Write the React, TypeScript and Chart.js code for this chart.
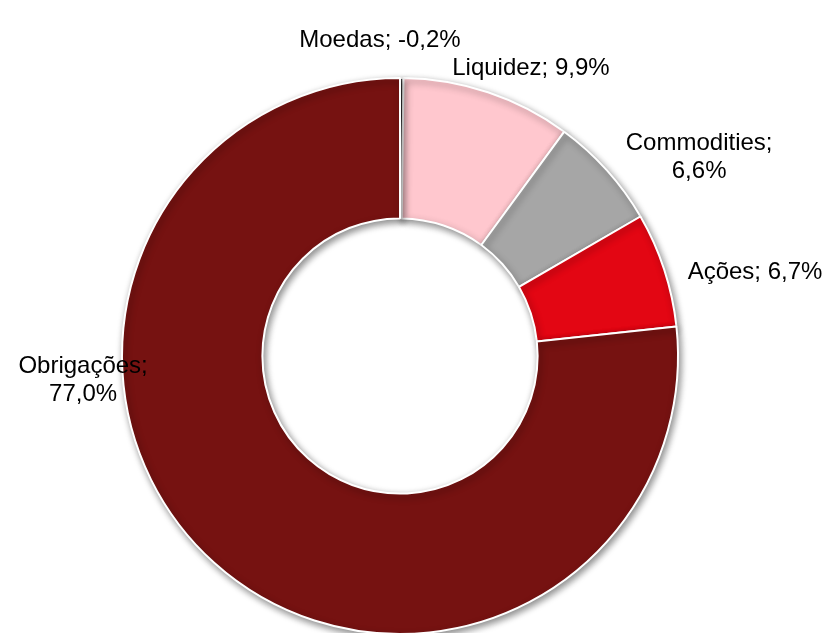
import React, { useEffect, useRef } from "react";
import { Chart, registerables } from "chart.js";

Chart.register(...registerables);

const categories = ["Moedas", "Liquidez", "Commodities", "Ações", "Obrigações"];
const values = [-0.2, 9.9, 6.6, 6.7, 77.0];
const colors = ["#4a4a4a", "#FFC7CE", "#A6A6A6", "#E30613", "#761211"];
// label text lines
const labelLines = [
  ["Moedas; -0,2%"],
  ["Liquidez; 9,9%"],
  ["Commodities;", "6,6%"],
  ["Ações; 6,7%"],
  ["Obrigações;", "77,0%"],
];
// label anchor offsets relative to chart center, in units of outer radius
const labelOffsets = [
  [-0.072, -1.137],
  [0.471, -1.036],
  [1.076, -0.716],
  [1.277, -0.302],
  [-1.14, 0.086],
];

const fmt = (v: number) => v.toFixed(1).replace(".", ",") + "%";

const shadowPlugin = {
  id: "shadowPlugin",
  beforeDatasetDraw(chart: any) {
    const ctx = chart.ctx;
    ctx.save();
    ctx.shadowColor = "rgba(0,0,0,0.45)";
    ctx.shadowBlur = 7;
    ctx.shadowOffsetX = 2;
    ctx.shadowOffsetY = 3;
  },
  afterDatasetDraw(chart: any) {
    chart.ctx.restore();
  },
};

const labelPlugin = {
  id: "labelPlugin",
  afterDraw(chart: any) {
    const meta = chart.getDatasetMeta(0);
    const arc = meta.data[0];
    if (!arc) return;
    const cx = arc.x;
    const cy = arc.y;
    const r = arc.outerRadius;
    const ctx = chart.ctx;
    ctx.save();
    ctx.font = "24px 'Liberation Sans', Arial, sans-serif";
    ctx.fillStyle = "#000";
    ctx.textAlign = "center";
    ctx.textBaseline = "middle";
    const lh = 28;
    labelLines.forEach((lines, i) => {
      const [ox, oy] = labelOffsets[i];
      const x = cx + ox * r;
      const y = cy + oy * r;
      const start = y - ((lines.length - 1) * lh) / 2;
      lines.forEach((t, j) => ctx.fillText(t, x, start + j * lh));
    });
    ctx.restore();
  },
};

export default function App() {
  const ref = useRef<HTMLCanvasElement | null>(null);
  useEffect(() => {
    document.body.style.margin = "0";
    if (!ref.current) return;
    const chart = new Chart(ref.current, {
      type: "doughnut",
      data: {
        labels: categories,
        datasets: [
          {
            data: values.map((v) => Math.abs(v)),
            backgroundColor: colors,
            borderColor: "#ffffff",
            borderWidth: 2,
          },
        ],
      },
      options: {
        responsive: false,
        animation: false,
        cutout: "49.5%",
        layout: { padding: { top: 77, bottom: 5, left: 121, right: 146 } },
        plugins: {
          legend: { display: false },
          tooltip: {
            callbacks: {
              label: (c: any) => categories[c.dataIndex] + "; " + fmt(values[c.dataIndex]),
            },
          },
        },
      },
      plugins: [shadowPlugin, labelPlugin],
    });
    return () => chart.destroy();
  }, []);
  return (
    <div style={{ position: "absolute", left: 0, top: 0, width: 825, height: 640, overflow: "hidden" }}>
      <canvas ref={ref} width={825} height={640} style={{ width: 825, height: 640 }} />
    </div>
  );
}
